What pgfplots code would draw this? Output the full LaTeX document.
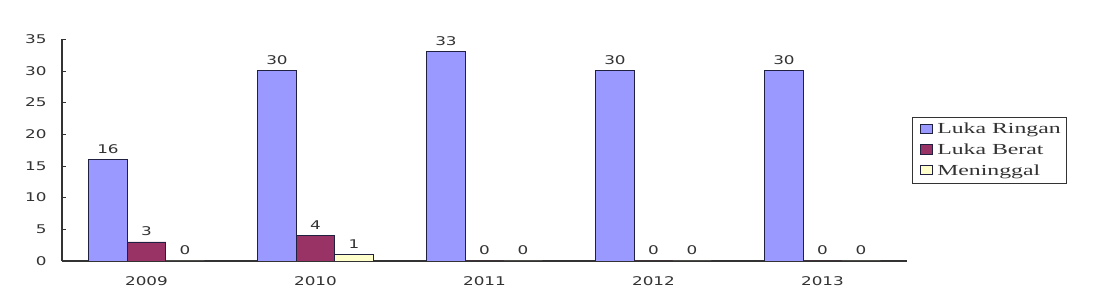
\documentclass[border=0pt]{standalone}
\usepackage{fontspec}
\usepackage{pgfplots}
\pgfplotsset{compat=1.18}
\newfontfamily\numfont[FakeStretch=1.4]{DejaVu Sans}
\newfontfamily\legfont[FakeStretch=1.55]{Liberation Serif}
\definecolor{cblue}{HTML}{9999FF}
\definecolor{cmaroon}{HTML}{993366}
\definecolor{cyellow}{HTML}{FFFFCC}
\definecolor{txt}{HTML}{333333}
\definecolor{edge}{HTML}{202040}
\begin{document}
\begin{tikzpicture}
\useasboundingbox (-46.5pt,-31.5pt) rectangle (792pt,195.75pt);
\begin{axis}[
  at={(0,0)}, anchor=south west,
  scale only axis, width=633.75pt, height=166.5pt,
  xmin=-0.5, xmax=4.5, ymin=0, ymax=35,
  ybar=0pt, bar width=0.228,
  ytick={0,5,...,35},
  xtick={0,1,2,3,4},
  xticklabels={2009,2010,2011,2012,2013},
  extra x ticks={0.5,1.5,2.5,3.5,4.5},
  extra x tick labels={},
  extra x tick style={major tick length=4pt, tick style={draw=black!80}},
  x tick style={draw=none},
  y tick style={draw=black!80},
  major tick length=3pt,
  tick align=inside,
  axis x line*=bottom, axis y line*=left,
  axis line style={draw=black!80, line width=0.8pt, -},
  /pgf/number format/assume math mode=true,
  ticklabel style={font=\numfont\fontsize{9}{10}\selectfont, text=txt},
  yticklabel style={xshift=-8pt},
  xticklabel style={yshift=-8pt},
  nodes near coords,
  every node near coord/.append style={font=\numfont\fontsize{9}{10}\selectfont, text=txt, yshift=1pt},
  legend style={at={(axis description cs:1.006,0.649)}, anchor=north west,
    draw=black!80, font=\legfont\fontsize{11.5}{13}\selectfont, text=txt,
    row sep=2pt, inner sep=2.5pt, legend cell align=left},
  legend image code/.code={\path[draw=none,fill=none] (0cm,0cm) -- (0.5cm,0cm);
    \draw[#1] (0.12cm,-0.1cm) rectangle (0.44cm,0.14cm);},
]
\addplot[fill=cblue, draw=edge, line width=0.6pt] coordinates {(0,16) (1,30) (2,33) (3,30) (4,30)};
\addlegendentry{Luka Ringan}
\addplot[fill=cmaroon, draw=edge, line width=0.6pt] coordinates {(0,3) (1,4) (2,0) (3,0) (4,0)};
\addlegendentry{Luka Berat}
\addplot[fill=cyellow, draw=edge, line width=0.6pt] coordinates {(0,0) (1,1) (2,0) (3,0) (4,0)};
\addlegendentry{Meninggal}
\end{axis}
\end{tikzpicture}
\end{document}
